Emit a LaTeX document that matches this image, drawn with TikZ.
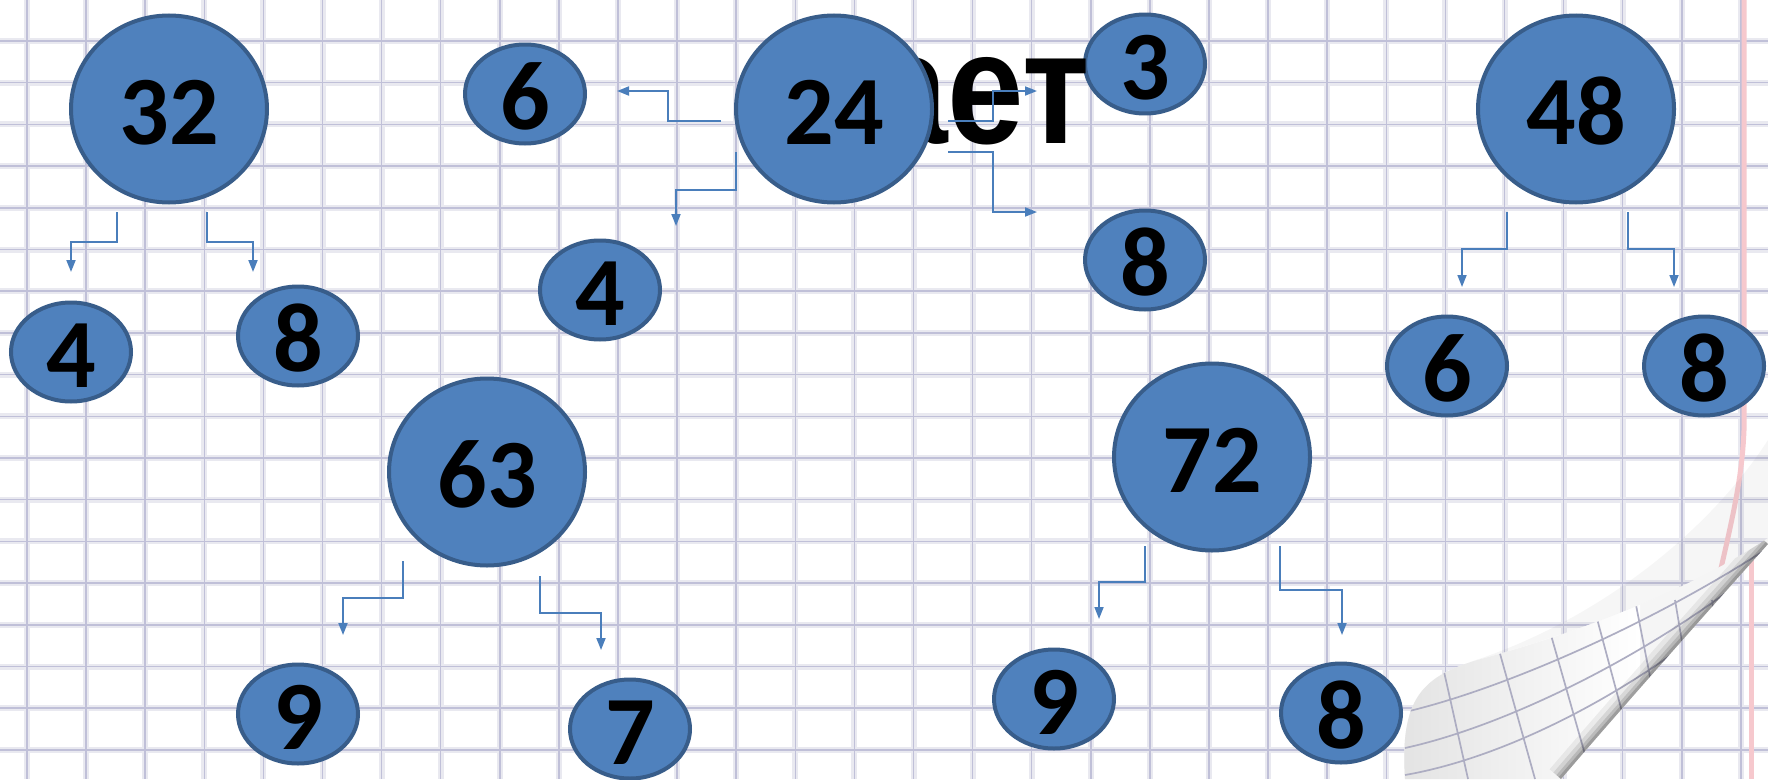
\documentclass[tikz,border=0pt]{standalone}
\usepackage{fontspec}
\setmainfont{Carlito}[BoldFont={Carlito Bold}]
\newfontfamily\wordfont{Liberation Sans}[BoldFont={Liberation Sans Bold}]
\usetikzlibrary{arrows.meta,shapes.geometric}
\definecolor{nodefill}{HTML}{4F81BD}
\definecolor{nodeline}{HTML}{385D8A}
\definecolor{connblue}{HTML}{4A7EBB}
\definecolor{gridband}{RGB}{233,233,240}
\definecolor{gridline}{RGB}{192,192,216}
\definecolor{margin}{RGB}{246,200,205}
\tikzset{
  bignode/.style={ellipse, draw=nodeline, fill=nodefill, line width=4pt,
    minimum width=196pt, minimum height=187pt, inner sep=0pt,
    text height=70pt, text depth=0pt,
    font=\bfseries\fontsize{98}{98}\selectfont},
  smallnode/.style={ellipse, draw=nodeline, fill=nodefill, line width=4pt,
    minimum width=120pt, minimum height=95pt, inner sep=0pt,
    text height=70pt, text depth=0pt,
    font=\bfseries\fontsize{98}{98}\selectfont},
  conn/.style={draw=connblue, line width=1.8pt,
    -{Triangle[length=12pt,width=9pt]}},
  gband/.style={draw=gridband, line width=6pt},
  gline/.style={draw=gridline, line width=1.5pt},
  flapgrid/.style={draw=gridline!90!black, line width=1.7pt},
}
\begin{document}
\begin{tikzpicture}[x=1pt,y=-1pt]
\useasboundingbox (0,0) rectangle (1768,779);
\fill[white] (0,0) rectangle (1768,779);
% grid paper
\foreach \i in {0,...,29} {\draw[gband] ({27+\i*59.1},0) -- ({27+\i*59.1},779);}
\foreach \i in {0,...,17} {\draw[gband] (0,{41+\i*41.7}) -- (1768,{41+\i*41.7});}
\foreach \i in {0,...,29} {\draw[gline] ({27+\i*59.1},0) -- ({27+\i*59.1},779);}
\foreach \i in {0,...,17} {\draw[gline] (0,{41+\i*41.7}) -- (1768,{41+\i*41.7});}
% margin line (bending toward the curl)
\draw[margin, line width=5pt] (1744,0) -- (1744,430) .. controls (1742,480) and (1732,520) .. (1716,590);
\draw[margin, line width=5pt] (1751,560) -- (1751,779);
% bend shading above the curl
\fill[gray, opacity=0.07] (1470,662) .. controls (1600,620) and (1710,530) .. (1768,440)
  -- (1768,540) .. controls (1690,590) and (1580,632) .. (1470,662) -- cycle;
% page curl flap
\fill[white!92!gray] (1405,779) .. controls (1400,700) and (1420,675) .. (1485,658)
  .. controls (1580,632) and (1690,590) .. (1768,538) -- (1768,544)
  .. controls (1700,620) and (1620,710) .. (1561,779) -- cycle;
\begin{scope}
\clip (1405,779) .. controls (1400,700) and (1420,675) .. (1485,658)
  .. controls (1580,632) and (1690,590) .. (1768,538) -- (1768,544)
  .. controls (1700,620) and (1620,710) .. (1561,779) -- cycle;
\shade[left color=white!78!gray, right color=white] (1400,530) rectangle (1640,779);
\foreach \a/\b in {1428/1468,1485/1535,1541/1592,1592/1640,1635/1670,1675/1705,1712/1735,1745/1768} {
  \draw[flapgrid] (\a,600) -- (\b,779);}
\draw[flapgrid] (1405,712) .. controls (1500,690) and (1650,625) .. (1768,548);
\draw[flapgrid] (1405,748) .. controls (1510,725) and (1660,650) .. (1768,560);
\draw[flapgrid] (1405,775) .. controls (1520,755) and (1665,675) .. (1768,575);
\foreach \w/\o in {30/0.06,20/0.09,12/0.12,6/0.16} {
  \draw[black, opacity=\o, line width=\w pt] (1768,544) .. controls (1700,620) and (1620,710) .. (1561,779);}
\end{scope}
% nodes
\node[bignode] (n32) at (169,109) {32};
\node[smallnode] (n32a) at (71,352) {4};
\node[smallnode] (n32b) at (298,336) {8};
\node[smallnode] (n6) at (525,94) {6};
\node[smallnode] (n4) at (600,290) {4};
\node[smallnode] (n3) at (1145,64) {3};
\node[smallnode] (n8a) at (1145,260) {8};
\node[bignode] (n48) at (1576,109) {48};
\node[smallnode] (n6b) at (1447,366) {6};
\node[smallnode] (n8b) at (1704,366) {8};
\node[bignode] (n63) at (487,472) {63};
\node[smallnode] (n9a) at (298,714) {9};
\node[smallnode] (n7) at (630,729) {7};
\node[bignode] (n72) at (1212,457) {72};
\node[smallnode] (n9b) at (1054,699) {9};
\node[smallnode] (n8c) at (1341,713) {8};
% word behind 24
\node[anchor=base east, inner sep=0pt, font=\wordfont\bfseries\fontsize{160}{160}\selectfont] (word) at (1090,143) {\scalebox{0.86}[1]{ает}};
\node[bignode] (n24) at (834,109) {24};
% connector end points
\coordinate (s32a) at (117,212); \coordinate (e32a) at (71,272);
\coordinate (s32b) at (207,212); \coordinate (e32b) at (253,272);
\coordinate (s24a) at (721,121); \coordinate (e24a) at (617,91);
\coordinate (s24b) at (736,152); \coordinate (e24b) at (676,226);
\coordinate (s24c) at (948,121); \coordinate (e24c) at (1037,91);
\coordinate (s24d) at (948,152); \coordinate (e24d) at (1037,212);
\coordinate (s48a) at (1507,212); \coordinate (e48a) at (1462,287);
\coordinate (s48b) at (1628,212); \coordinate (e48b) at (1674,287);
\coordinate (s63a) at (403,561); \coordinate (e63a) at (343,635);
\coordinate (s63b) at (540,576); \coordinate (e63b) at (601,650);
\coordinate (s72a) at (1145,546); \coordinate (e72a) at (1099,619);
\coordinate (s72b) at (1280,546); \coordinate (e72b) at (1342,635);
% connectors
\draw[conn] (s32a) -- ++(0,30) -| (e32a);
\draw[conn] (s32b) -- ++(0,30) -| (e32b);
\draw[conn] (s24a) -- ++(-53,0) |- (e24a);
\draw[conn] (s24b) -- ++(0,38) -| (e24b);
\draw[conn] (s24c) -- ++(45,0) |- (e24c);
\draw[conn] (s24d) -- ++(45,0) |- (e24d);
\draw[conn] (s48a) -- ++(0,37) -| (e48a);
\draw[conn] (s48b) -- ++(0,37) -| (e48b);
\draw[conn] (s63a) -- ++(0,37) -| (e63a);
\draw[conn] (s63b) -- ++(0,37) -| (e63b);
\draw[conn] (s72a) -- ++(0,36) -| (e72a);
\draw[conn] (s72b) -- ++(0,44) -| (e72b);
\end{tikzpicture}
\end{document}
